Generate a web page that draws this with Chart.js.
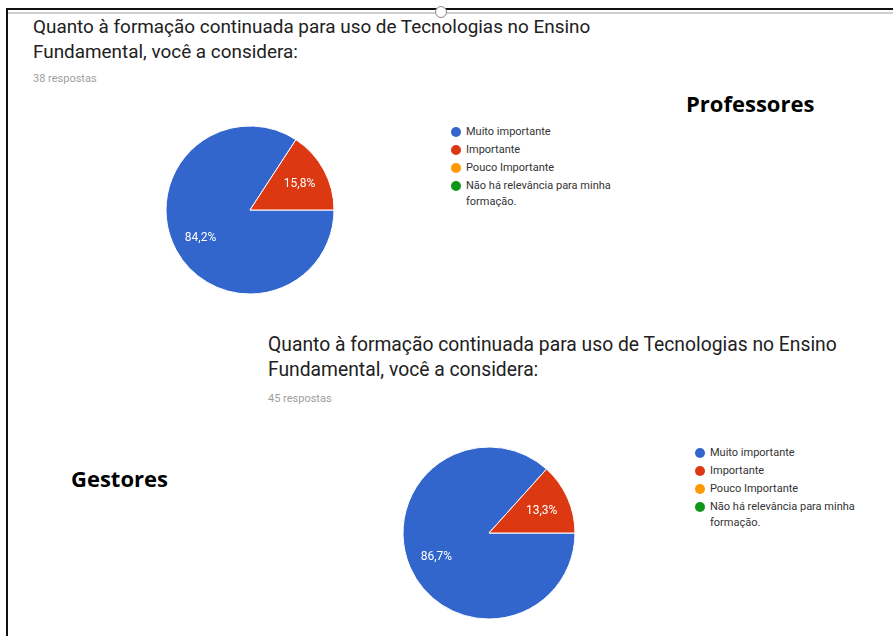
<!DOCTYPE html>
<html>
<head>
<meta charset="utf-8">
<script src="https://cdn.jsdelivr.net/npm/chart.js@4.4.1/dist/chart.umd.min.js"></script>
<style>
    body { margin: 0; width: 893px; height: 636px; background: #fff; position: relative; overflow: hidden; font-family: Roboto, Arial, sans-serif; }
    .frameTop { position: absolute; left: 6px; top: 8px; width: 887px; height: 2px; background: #111; }
    .frameLeft { position: absolute; left: 6px; top: 8px; width: 2px; height: 628px; background: #111; }
    .grayLine { position: absolute; left: 8px; top: 12px; width: 885px; height: 2px; background: #cfcfcf; }
    .knob { position: absolute; left: 435px; top: 6px; width: 10px; height: 10px; border: 1.5px solid #888; border-radius: 50%; background: #fff; }
    .title { position: absolute; line-height: 25px; color: #212121; white-space: nowrap; }
    .count { position: absolute; font-size: 11px; color: #9e9e9e; }
    .tag { position: absolute; font-family: "Open Sans", sans-serif; font-weight: bold; font-size: 22px; color: #000; }
    canvas { position: absolute; }
    .legend { position: absolute; font-size: 11px; color: #333; }
    .legend div { position: relative; padding-left: 13px; line-height: 16px; margin-bottom: 2px; width: 150px; }
    .legend span { position: absolute; left: -2px; top: 3px; width: 10px; height: 10px; border-radius: 50%; }
</style>
</head>
<body>
<div class="frameTop"></div>
<div class="frameLeft"></div>
<div class="grayLine"></div>
<div class="knob"></div>

<div class="title" style="left:33px; top:14px; font-size:18.9px;">Quanto à formação continuada para uso de Tecnologias no Ensino<br>Fundamental, você a considera:</div>
<div class="count" style="left:33px; top:72px;">38 respostas</div>
<div class="tag" style="left:686px; top:88px;">Professores</div>
<canvas id="pieProf" width="180" height="180" style="left:160px; top:120px;"></canvas>
<div class="legend" id="legendProf" style="left:453px; top:124px;"></div>

<div class="title" style="left:268px; top:332px; font-size:19.3px;">Quanto à formação continuada para uso de Tecnologias no Ensino<br>Fundamental, você a considera:</div>
<div class="count" style="left:268px; top:392px;">45 respostas</div>
<div class="tag" style="left:71px; top:463px;">Gestores</div>
<canvas id="pieGest" width="180" height="180" style="left:399px; top:443px;"></canvas>
<div class="legend" id="legendGest" style="left:697px; top:445px;"></div>

<script>
// answer options and google-forms colours
const categories = ["Muito importante", "Importante", "Pouco Importante", "Não há relevância para minha formação."];
const sliceColors = ["#3366cc", "#dc3912", "#ff9900", "#109618"];

// responses per option
const professores = [32, 6, 0, 0];   // 38 respostas
const gestores = [39, 6, 0, 0];      // 45 respostas

// white percentage labels inside the slices
const pctLabels = {
    id: "pctLabels",
    afterDatasetsDraw(chart) {
        const ctx = chart.ctx;
        const data = chart.data.datasets[0].data;
        const total = data.reduce((a, b) => a + b, 0);
        chart.getDatasetMeta(0).data.forEach((arc, i) => {
            if (!data[i]) return;
            const p = arc.getProps(["x", "y", "startAngle", "endAngle", "outerRadius"], true);
            const mid = (p.startAngle + p.endAngle) / 2;
            const r = p.outerRadius * 0.67;
            const txt = (data[i] / total * 100).toFixed(1).replace(".", ",") + "%";
            ctx.save();
            ctx.fillStyle = "#fff";
            ctx.font = "12px Roboto, Arial, sans-serif";
            ctx.textAlign = "center";
            ctx.textBaseline = "middle";
            ctx.fillText(txt, p.x + Math.cos(mid) * r, p.y + Math.sin(mid) * r + 1);
            ctx.restore();
        });
    }
};

function makePie(canvasId, legendId, values, radius) {
    const chart = new Chart(document.getElementById(canvasId), {
        type: "pie",
        data: {
            labels: categories,
            datasets: [{
                data: values,
                backgroundColor: sliceColors,
                borderColor: "#fff",
                borderWidth: 1,
                radius: radius
            }]
        },
        options: {
            responsive: false,
            animation: false,
            rotation: 90,
            plugins: {
                legend: { display: false },
                tooltip: { enabled: false }
            }
        },
        plugins: [pctLabels]
    });

    // legend built from the chart's own label items
    const items = Chart.overrides.pie.plugins.legend.labels.generateLabels(chart);
    const box = document.getElementById(legendId);
    items.forEach(it => {
        const row = document.createElement("div");
        const dot = document.createElement("span");
        dot.style.background = it.fillStyle;
        row.appendChild(dot);
        row.appendChild(document.createTextNode(it.text));
        box.appendChild(row);
    });
    return chart;
}

makePie("pieProf", "legendProf", professores, 84);
makePie("pieGest", "legendGest", gestores, 86);
</script>
</body>
</html>
